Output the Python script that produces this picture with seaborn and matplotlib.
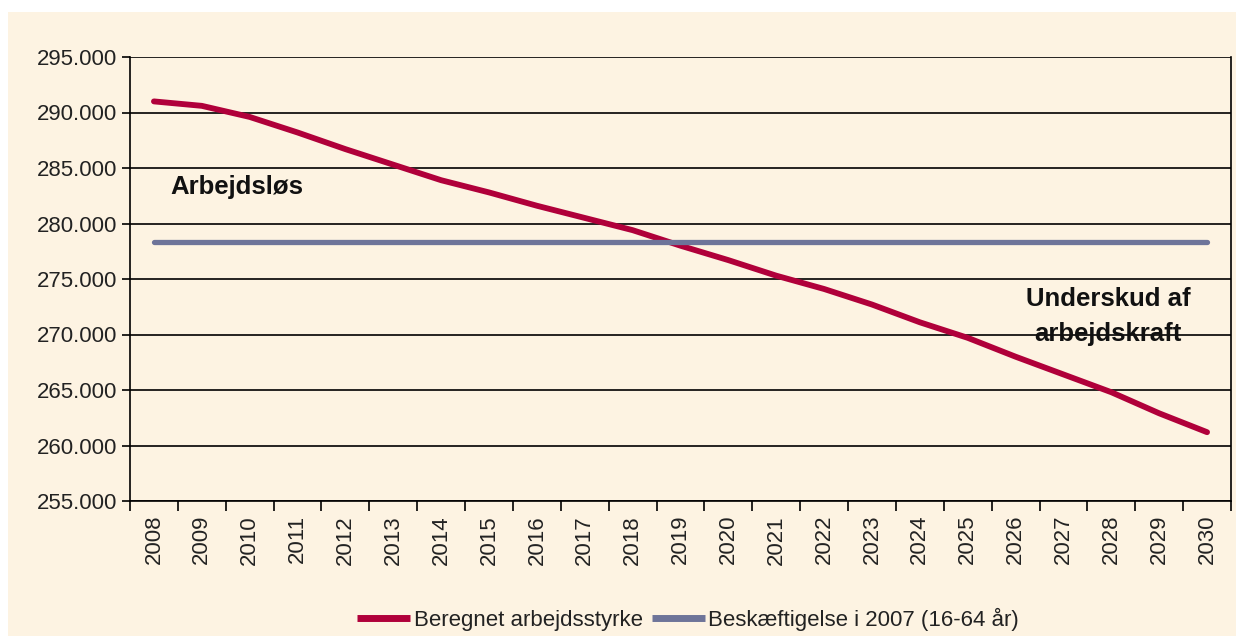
import pandas as pd
import seaborn as sns
import matplotlib.pyplot as plt
from matplotlib.patches import Rectangle
from matplotlib.ticker import FuncFormatter

# data
years = list(range(2008, 2031))
arbejdsstyrke = [291.0, 290.6, 289.6, 288.2, 286.7, 285.3, 283.9, 282.8, 281.6, 280.5,
                 279.4, 278.0, 276.7, 275.3, 274.1, 272.7, 271.1, 269.7, 268.0, 266.4,
                 264.8, 262.9, 261.2]
beskaeftigelse = [278.3] * len(years)
y_ticks = [255, 260, 265, 270, 275, 280, 285, 290, 295]

navn1 = 'Beregnet arbejdsstyrke'
navn2 = 'Beskæftigelse i 2007 (16-64 år)'

df = pd.DataFrame({
    'pos': list(range(len(years))) * 2,
    'vaerdi': [v * 1000 for v in arbejdsstyrke + beskaeftigelse],
    'serie': [navn1] * len(years) + [navn2] * len(years),
})

sns.set_style('white')
plt.rcParams['font.family'] = ['Liberation Sans', 'DejaVu Sans']

beige = '#FDF3E2'
fig = plt.figure(figsize=(12.36, 6.36), dpi=100, facecolor='white')
fig.patches.append(Rectangle((8 / 1236, 0), 1, 1 - 12 / 636, transform=fig.transFigure,
                             facecolor=beige, edgecolor='none', zorder=-10))
ax = fig.add_axes([130 / 1236, 1 - 501 / 636, (1231 - 130) / 1236, (501 - 57) / 636])
ax.set_facecolor(beige)

sns.lineplot(data=df, x='pos', y='vaerdi', hue='serie', ax=ax,
             palette={navn1: '#B0003A', navn2: '#6E7499'}, linewidth=4.2,
             legend=False, zorder=3)
ax.lines[0].set_solid_capstyle('round')
ax.lines[1].set_linewidth(3.8)

ax.set_xlim(-0.5, len(years) - 0.5)
ax.set_ylim(y_ticks[0] * 1000, y_ticks[-1] * 1000)
ax.set_yticks([t * 1000 for t in y_ticks])
ax.yaxis.set_major_formatter(FuncFormatter(lambda v, p: f'{v / 1000:.0f}.000'))
ax.yaxis.grid(True, color='black', linewidth=1.2, zorder=1)
ax.set_axisbelow(True)

# ticks at category borders, labels at centres
ax.set_xticks([i - 0.5 for i in range(len(years) + 1)])
ax.set_xticklabels([])
ax.set_xticks(range(len(years)), minor=True)
ax.set_xticklabels([str(y) for y in years], minor=True, rotation=90)
ax.tick_params(axis='x', which='major', length=7, width=1.2, color='black', direction='out', bottom=True)
ax.tick_params(axis='x', which='minor', length=0, pad=10, labelsize=16, labelcolor='#222222')
ax.tick_params(axis='y', length=6, width=1.2, color='black', direction='out', left=True,
               labelsize=16, labelcolor='#222222', pad=3)
ax.set_xlabel('')
ax.set_ylabel('')

for side in ['left', 'right', 'bottom']:
    ax.spines[side].set_color('black')
    ax.spines[side].set_linewidth(1.2)
ax.spines['top'].set_visible(False)

ax.text(0.34, 283300, 'Arbejdsløs', fontsize=18.5, fontweight='bold', ha='left', va='center', color='#111111')
ax.text(19.93, 271600, 'Underskud af\narbejdskraft', fontsize=18.5, fontweight='bold',
        ha='center', va='center', color='#111111', linespacing=1.6, zorder=5)

handles = [plt.Line2D([], [], color='#B0003A', linewidth=5, solid_capstyle='butt'),
           plt.Line2D([], [], color='#6E7499', linewidth=5, solid_capstyle='butt')]
fig.legend(handles, [navn1, navn2], loc='center', bbox_to_anchor=(688 / 1236, 1 - 619 / 636),
           ncol=2, frameon=False, fontsize=16, handlelength=2.4, handletextpad=0.15,
           columnspacing=0.4, labelcolor='#222222')

fig.savefig('out.png', dpi=100, facecolor='white')
